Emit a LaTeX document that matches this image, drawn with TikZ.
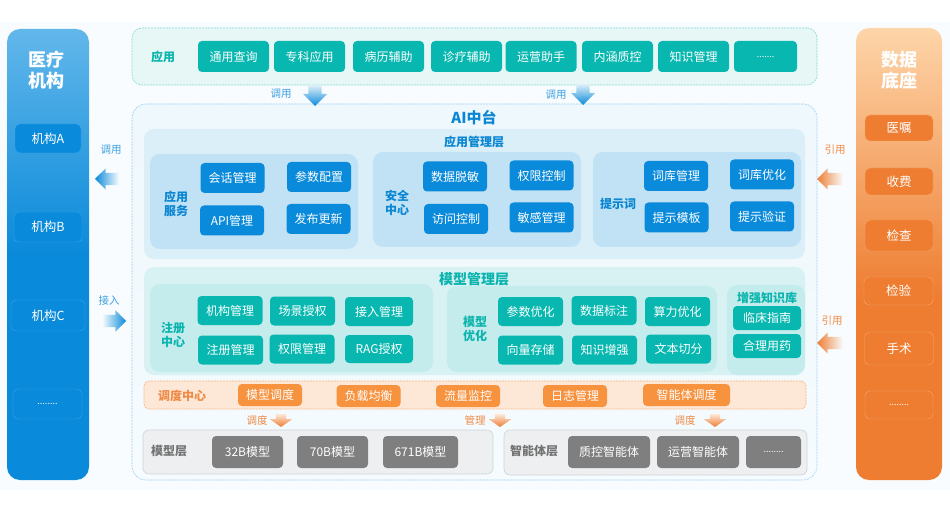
\documentclass[tikz,border=0pt]{standalone}
\usepackage{fontspec}
\setmainfont{Noto Sans CJK SC}
\usetikzlibrary{shapes.arrows}
\definecolor{bgtint}{HTML}{F9FCFE}
\definecolor{bluedeep}{HTML}{0A8ADA}
\definecolor{bluetop}{HTML}{62B7EA}
\definecolor{bluetext}{HTML}{0A86D2}
\definecolor{blueedge}{HTML}{3BA2E8}
\definecolor{bluelayer}{HTML}{DBEFF9}
\definecolor{bluesub}{HTML}{C0E2F4}
\definecolor{aitop}{HTML}{EFF8FD}
\definecolor{aibottom}{HTML}{F5FBFE}
\definecolor{orangedeep}{HTML}{EE7D31}
\definecolor{orangetop}{HTML}{FDD5A9}
\definecolor{orangeedge}{HTML}{F6A772}
\definecolor{orangefill}{HTML}{F7923F}
\definecolor{orangeband}{HTML}{FDE8D8}
\definecolor{orangetext}{HTML}{EF8A45}
\definecolor{tealdeep}{HTML}{08B8B0}
\definecolor{tealtext}{HTML}{0BB5AE}
\definecolor{tealtop}{HTML}{E6F7F5}
\definecolor{teallayer}{HTML}{D8F2F4}
\definecolor{tealsub}{HTML}{C4ECEC}
\definecolor{greyfill}{HTML}{7F7F7F}
\definecolor{greyrow}{HTML}{EDEFF1}
\definecolor{greyedge}{HTML}{D0D3D6}
\pgfdeclareverticalshading{leftfade}{100bp}{color(0bp)=(bluedeep); color(50bp)=(bluedeep); color(75bp)=(bluetop); color(100bp)=(bluetop)}
\pgfdeclareverticalshading{rightfade}{100bp}{color(0bp)=(orangedeep); color(45bp)=(orangedeep); color(75bp)=(orangetop); color(100bp)=(orangetop)}
\tikzset{
    sized/.style 2 args={minimum width=#1,minimum height=#2,inner sep=0pt,outer sep=0pt},
    panel/.style={rounded corners=10pt},
    dashline/.style={dash pattern=on 2pt off 1pt,line width=0.6pt},
    btn/.style={rounded corners=4pt,text=white,font=\fontsize{12}{14}\selectfont},
    bluebtn/.style={btn,fill=bluedeep,sized={64}{30}},
    tealbtn/.style={btn,fill=tealdeep,sized={65}{29}},
    orangebtn/.style={btn,fill=orangefill,sized={64}{22}},
    greybtn/.style={btn,fill=greyfill,sized={71}{32}},
    topbtn/.style={btn,fill=tealdeep,sized={71}{31}},
    leftbox/.style={rounded corners=5pt,fill=bluedeep,draw=blueedge,line width=0.4pt,text=white,font=\fontsize{12.5}{14}\selectfont},
    rightbox/.style={rounded corners=5pt,fill=orangedeep,draw=orangeedge,line width=0.4pt,text=white,font=\fontsize{12.5}{14}\selectfont},
    sidetitle/.style={text=white,font=\fontsize{18}{20}\bfseries\selectfont},
    bluehead/.style={text=bluetext,font=\fontsize{12}{14}\bfseries\selectfont},
    tealhead/.style={text=tealtext,font=\fontsize{12}{14}\bfseries\selectfont},
    greyhead/.style={text=black!55,font=\fontsize{12}{14}\bfseries\selectfont},
    bluenote/.style={text=bluedeep!80!white,font=\fontsize{10.5}{12}\selectfont},
    orangenote/.style={text=orangetext,font=\fontsize{10.5}{12}\selectfont},
    blockarrow/.style={single arrow,outer sep=0pt,anchor=tip,single arrow head indent=0pt},
    downblue/.style={blockarrow,shape border rotate=270,inner xsep=6.5pt,inner ysep=0pt,single arrow head extend=5.5pt,minimum height=21,top color=bluesub!50!white,bottom color=bluedeep},
    downorange/.style={blockarrow,shape border rotate=270,inner xsep=5pt,inner ysep=0pt,single arrow head extend=6pt,minimum height=13,single arrow tip angle=110,top color=orangeband,bottom color=orangedeep},
    leftblue/.style={blockarrow,shape border rotate=180,inner ysep=6pt,inner xsep=0pt,single arrow head extend=4.5pt,minimum height=24,left color=bluedeep,right color=bgtint},
    rightblue/.style={blockarrow,inner ysep=6pt,inner xsep=0pt,single arrow head extend=4.5pt,minimum height=24,left color=bgtint,right color=bluedeep},
    leftorange/.style={blockarrow,shape border rotate=180,inner ysep=6pt,inner xsep=0pt,single arrow head extend=4.5pt,minimum height=26,left color=orangedeep,right color=bgtint}
}
\begin{document}
\begin{tikzpicture}[x=1pt,y=-1pt]
    \useasboundingbox (0,0) rectangle (950,529);
    \fill[bgtint] (0,22) rectangle (950,490);

    % side columns
    \node[panel,rounded corners=13pt,shading=leftfade,sized={82}{451}] (hospital) at (48,254.5) {};
    \node[sidetitle] (hospitaltitle) at (46,60) {医疗};
    \node[sidetitle] (hospitaltitleb) at (46,81) {机构};
    \node[leftbox,sized={66}{29}] (orga) at (48,138.5) {机构A};
    \node[leftbox,sized={68}{30}] (orgb) at (48,227) {机构B};
    \node[leftbox,sized={74}{31}] (orgc) at (48,315.5) {机构C};
    \node[leftbox,sized={69}{30}] (orgd) at (47.5,404) {\fontsize{9}{10}\selectfont ........};

    \node[panel,rounded corners=13pt,shading=rightfade,sized={86}{452}] (database) at (899,254) {};
    \node[sidetitle] (databasetitle) at (899,60) {数据};
    \node[sidetitle] (databasetitleb) at (899,81) {底座};
    \node[rightbox,sized={68}{26}] (order) at (899,128) {医嘱};
    \node[rightbox,sized={68}{27}] (charge) at (899,181.5) {收费};
    \node[rightbox,sized={68}{31}] (exam) at (899,235.5) {检查};
    \node[rightbox,sized={69}{28}] (lab) at (898.5,291) {检验};
    \node[rightbox,sized={69}{33}] (surgery) at (899,348.5) {手术};
    \node[rightbox,sized={68}{28}] (datamore) at (899,405) {\fontsize{9}{10}\selectfont ........};

    % applications
    \node[panel,fill=tealtop,draw=tealdeep!50!white,dashline,sized={685}{57}] (apps) at (474.5,56.5) {};
    \node[tealhead] (appstitle) at (163,57) {应用};
    \node[topbtn] (query) at (233.5,56.5) {通用查询};
    \node[topbtn] (special) at (309.5,56.5) {专科应用};
    \node[topbtn] (record) at (388.5,56.5) {病历辅助};
    \node[topbtn] (diagnosis) at (466.5,56.5) {诊疗辅助};
    \node[topbtn] (operate) at (541,56.5) {运营助手};
    \node[topbtn] (quality) at (617.5,56.5) {内涵质控};
    \node[topbtn] (knowledge) at (693.5,56.5) {知识管理};
    \node[topbtn,sized={63}{31}] (appsmore) at (765.5,56.5) {\fontsize{9}{10}\selectfont .......};

    % AI platform
    \node[panel,rounded corners=14pt,top color=aitop,bottom color=aibottom,draw=bluedeep!40!white,dashline,sized={685}{376}] (aiplatform) at (474.5,292) {};
    \node[text=bluetext,font=\fontsize{15}{18}\bfseries\selectfont] (aititle) at (474,118) {AI中台};

    % application layer
    \node[panel,fill=bluelayer,sized={661}{130}] (applayer) at (474.5,194) {};
    \node[bluehead] (applayertitle) at (474,142) {应用管理层};
    \node[panel,fill=bluesub,sized={208}{95}] (service) at (254,201.5) {};
    \node[panel,fill=bluesub,sized={208}{95}] (security) at (477,199.5) {};
    \node[panel,fill=bluesub,sized={208}{95}] (prompt) at (697,199.5) {};
    \node[bluehead,align=center] (servicetitle) at (176,204) {应用\\服务};
    \node[bluehead,align=center] (securitytitle) at (397,203) {安全\\中心};
    \node[bluehead] (prompttitle) at (618,204) {提示词};
    \node[bluebtn] (session) at (232.5,178) {会话管理};
    \node[bluebtn] (param) at (319,177) {参数配置};
    \node[bluebtn] (api) at (232,220.5) {API管理};
    \node[bluebtn] (release) at (318.5,219) {发布更新};
    \node[bluebtn] (mask) at (455,176.5) {数据脱敏};
    \node[bluebtn] (perm) at (541.5,175.5) {权限控制};
    \node[bluebtn] (access) at (456,219) {访问控制};
    \node[bluebtn] (sensitive) at (541.5,217.5) {敏感管理};
    \node[bluebtn] (lexicon) at (676,176) {词库管理};
    \node[bluebtn] (lexopt) at (762,174.5) {词库优化};
    \node[bluebtn] (template) at (676.5,217.5) {提示模板};
    \node[bluebtn] (verify) at (762,216.5) {提示验证};

    % model layer
    \node[panel,fill=teallayer,sized={661}{108}] (modellayer) at (474.5,321) {};
    \node[tealhead,font=\fontsize{14}{16}\bfseries\selectfont] (modellayertitle) at (474,279) {模型管理层};
    \node[panel,fill=tealsub,sized={283}{88}] (register) at (291.5,328) {};
    \node[panel,fill=tealsub,sized={270}{86}] (optimize) at (582,329) {};
    \node[panel,fill=tealsub,sized={78}{90}] (augment) at (766,330) {};
    \node[tealhead,align=center] (registertitle) at (173,335) {注册\\中心};
    \node[tealhead,align=center] (optimizetitle) at (475,329) {模型\\优化};
    \node[tealhead] (augmenttitle) at (767,298) {增强知识库};
    \node[tealbtn] (orgmgr) at (230,310.5) {机构管理};
    \node[tealbtn] (scene) at (302.5,311) {场景授权};
    \node[tealbtn,sized={68}{29}] (entry) at (379,311.5) {接入管理};
    \node[tealbtn] (regmgr) at (230.5,350) {注册管理};
    \node[tealbtn] (permmgr) at (302,349) {权限管理};
    \node[tealbtn,sized={68}{28}] (rag) at (379,349) {RAG授权};
    \node[tealbtn] (paramopt) at (530.5,311.5) {参数优化};
    \node[tealbtn] (labeling) at (604,310.5) {数据标注};
    \node[tealbtn] (compute) at (677.5,311.5) {算力优化};
    \node[tealbtn] (vector) at (530.5,350) {向量存储};
    \node[tealbtn] (augknow) at (604.5,350) {知识增强};
    \node[tealbtn] (split) at (678.5,349) {文本切分};
    \node[tealbtn,sized={68}{24}] (guide) at (767,318) {临床指南};
    \node[tealbtn,sized={68}{24}] (drug) at (767,346) {合理用药};

    % scheduling band
    \node[rounded corners=5pt,fill=orangeband,draw=orangefill!70!white,dashline,sized={662}{28}] (schedule) at (475,395) {};
    \node[text=orangetext,font=\fontsize{12}{14}\bfseries\selectfont] (scheduletitle) at (182,396) {调度中心};
    \node[orangebtn] (modelsch) at (270,395) {模型调度};
    \node[orangebtn] (balance) at (368.5,396) {负载均衡};
    \node[orangebtn] (traffic) at (468,396) {流量监控};
    \node[orangebtn] (logs) at (575,396) {日志管理};
    \node[orangebtn,sized={87}{22}] (agentsch) at (686.5,395) {智能体调度};

    % model and agent rows
    \node[rounded corners=6pt,fill=greyrow,draw=greyedge,line width=0.6pt,sized={350}{44}] (modelrow) at (318,452) {};
    \node[greyhead] (modelrowtitle) at (169,451) {模型层};
    \node[greybtn] (m32) at (247.5,452) {32B模型};
    \node[greybtn] (m70) at (332.5,452) {70B模型};
    \node[greybtn,sized={75}{32}] (m671) at (420.5,452) {671B模型};
    \node[rounded corners=6pt,fill=greyrow,draw=greyedge,line width=0.6pt,sized={303}{45}] (agentrow) at (655.5,452.5) {};
    \node[greyhead] (agentrowtitle) at (534,451) {智能体层};
    \node[greybtn,sized={82}{32}] (qcagent) at (609,452) {质控智能体};
    \node[greybtn,sized={82}{32}] (opagent) at (698,452) {运营智能体};
    \node[greybtn,sized={55}{32}] (agentmore) at (773.5,452) {\fontsize{9}{10}\selectfont ........};

    % block arrows and their words
    \node[bluenote] (calla) at (281,94) {调用};
    \node[downblue] (arrowa) at (315,106) {};
    \node[bluenote] (callb) at (556,95) {调用};
    \node[downblue] (arrowb) at (583,105) {};
    \node[bluenote] (callc) at (111,150) {调用};
    \node[leftblue] (arrowc) at (95,179) {};
    \node[bluenote] (join) at (109,301) {接入};
    \node[rightblue] (arrowd) at (126,321) {};
    \node[orangenote] (citea) at (835,150) {引用};
    \node[leftorange] (arrowe) at (817,179) {};
    \node[orangenote] (citeb) at (832,321) {引用};
    \node[leftorange] (arrowf) at (817,343) {};
    \node[orangenote] (dispatcha) at (257,420) {调度};
    \node[downorange] (arrowg) at (281,427) {};
    \node[orangenote] (manage) at (475,420) {管理};
    \node[downorange] (arrowh) at (500,427) {};
    \node[orangenote] (dispatchb) at (685,420) {调度};
    \node[downorange] (arrowi) at (715,427) {};
\end{tikzpicture}
\end{document}
